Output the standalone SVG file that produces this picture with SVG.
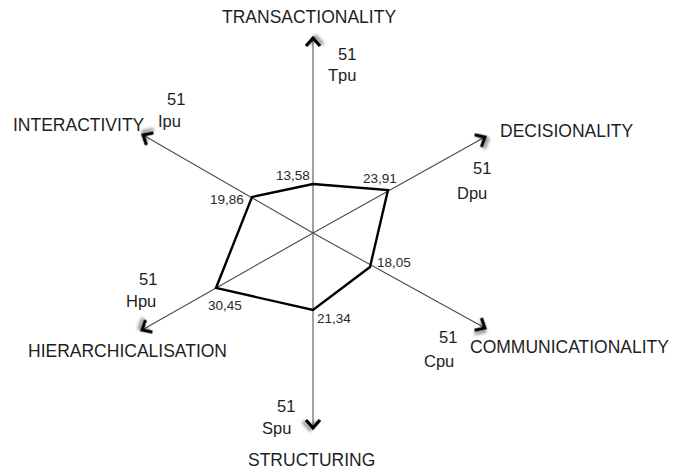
<svg xmlns="http://www.w3.org/2000/svg" width="674" height="472" viewBox="0 0 674 472">
<style>
.axis{stroke:#4a4a4a;stroke-width:1.1;fill:none}
.axis.v{stroke:#8a8a8a;stroke-width:1.6}
.lbl{font-family:"Liberation Sans",Arial,sans-serif;font-size:17.5px;fill:#1e1e1e}
.max{font-family:"Liberation Sans",Arial,sans-serif;font-size:16.5px;fill:#1e1e1e}
.val{font-family:"Liberation Sans",Arial,sans-serif;font-size:13.5px;fill:#2a2a2a}
.poly{stroke:#000;stroke-width:2.4;fill:none;stroke-linejoin:miter}
</style>
<defs>
<filter id="sh" x="-100%" y="-100%" width="300%" height="300%">
<feDropShadow dx="1.5" dy="3" stdDeviation="1.8" flood-color="#000" flood-opacity="0.45"/>
</filter>
<marker id="ah" markerUnits="userSpaceOnUse" viewBox="-14 -12 20 24" refX="0" refY="0" markerWidth="20" markerHeight="24" orient="auto" overflow="visible">
<path d="M-8,-7 L0,0 L-8,7" fill="none" stroke="#000" stroke-width="3" stroke-linejoin="miter" filter="url(#sh)"/>
</marker>
</defs>
<rect width="674" height="472" fill="#fff"/>
<g id="connectors">
<line id="axis-t" class="axis v" x1="313" y1="233" x2="313" y2="38" marker-end="url(#ah)"/>
<line id="axis-d" class="axis" x1="313" y1="233" x2="485" y2="137" marker-end="url(#ah)"/>
<line id="axis-c" class="axis" x1="313" y1="233" x2="485" y2="328" marker-end="url(#ah)"/>
<line id="axis-s" class="axis v" x1="313" y1="233" x2="313" y2="428" marker-end="url(#ah)"/>
<line id="axis-h" class="axis" x1="313" y1="233" x2="142" y2="330" marker-end="url(#ah)"/>
<line id="axis-i" class="axis" x1="313" y1="233" x2="143" y2="135" marker-end="url(#ah)"/>
</g>
<g id="polygon">
<polygon class="poly" points="313,184 388,190 370,267 313,310 216,288 252,197"/>
</g>
<g id="node-transactionality">
<text class="lbl" x="222" y="23">TRANSACTIONALITY</text>
<text class="max" x="338" y="60">51</text>
<text class="max" x="328" y="81">Tpu</text>
<text class="val" x="276" y="180">13,58</text>
</g>
<g id="node-decisionality">
<text class="lbl" x="500" y="137">DECISIONALITY</text>
<text class="max" x="473" y="174">51</text>
<text class="max" x="457" y="199">Dpu</text>
<text class="val" x="363" y="183">23,91</text>
</g>
<g id="node-communicationality">
<text class="lbl" x="470" y="353">COMMUNICATIONALITY</text>
<text class="max" x="439" y="343">51</text>
<text class="max" x="424" y="367">Cpu</text>
<text class="val" x="377" y="267">18,05</text>
</g>
<g id="node-structuring">
<text class="lbl" x="248" y="466">STRUCTURING</text>
<text class="max" x="277" y="412">51</text>
<text class="max" x="262" y="434">Spu</text>
<text class="val" x="317" y="323">21,34</text>
</g>
<g id="node-hierarchicalisation">
<text class="lbl" x="28" y="357">HIERARCHICALISATION</text>
<text class="max" x="139" y="285">51</text>
<text class="max" x="126" y="307">Hpu</text>
<text class="val" x="208" y="310">30,45</text>
</g>
<g id="node-interactivity">
<text class="lbl" x="13" y="131">INTERACTIVITY</text>
<text class="max" x="167" y="105">51</text>
<text class="max" x="158" y="127">Ipu</text>
<text class="val" x="210" y="204">19,86</text>
</g>
</svg>
